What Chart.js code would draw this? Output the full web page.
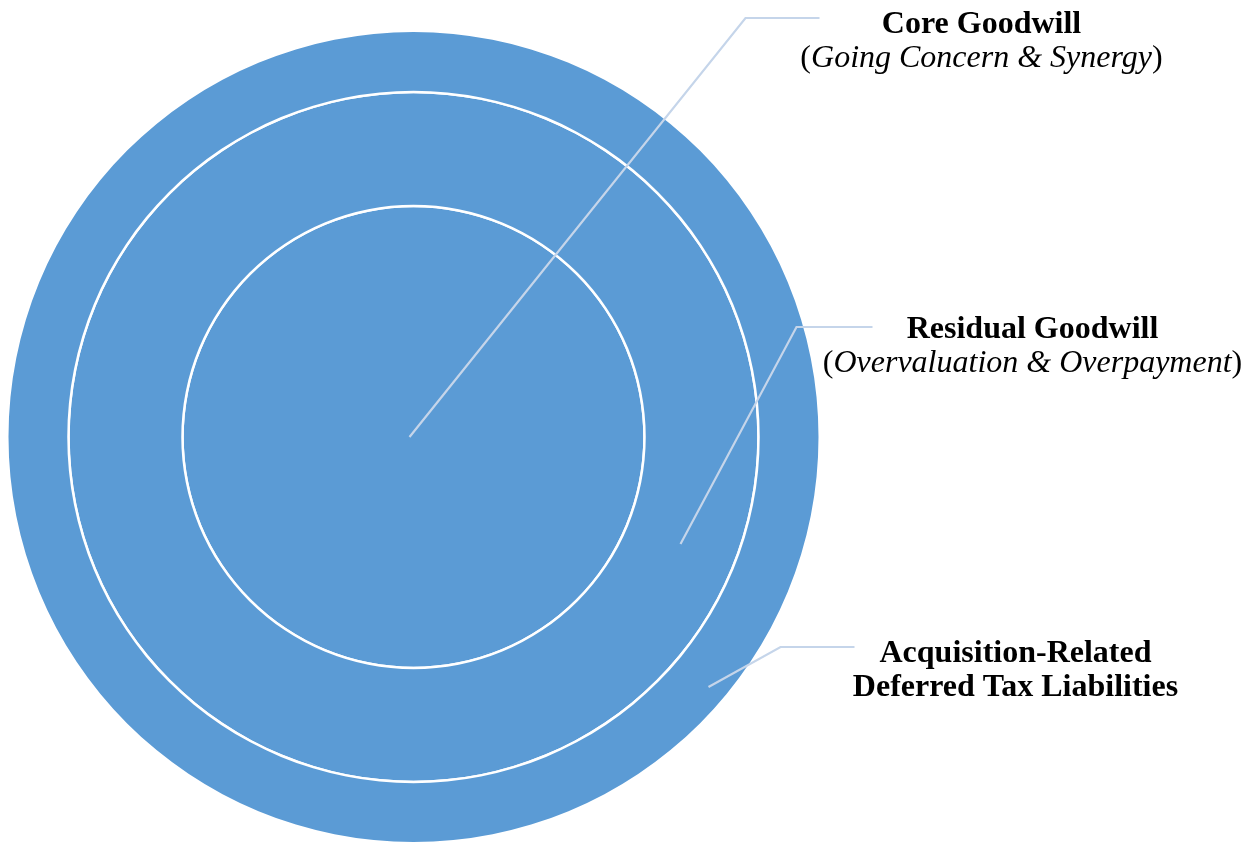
<!DOCTYPE html>
<html>
<head>
<meta charset="utf-8">
<script src="https://cdn.jsdelivr.net/npm/chart.js@4/dist/chart.umd.min.js"></script>
<style>
  html, body { margin: 0; padding: 0; background: #ffffff; }
  #wrap { position: relative; width: 1256px; height: 842px; }
</style>
</head>
<body>
<div id="wrap"><canvas id="c" width="1256" height="842"></canvas></div>
<script>
// Layers, outermost first
const layerTitles = ["Acquisition-Related\nDeferred Tax Liabilities", "Residual Goodwill", "Core Goodwill"];
const layerSubtitles = ["", "Overvaluation & Overpayment", "Going Concern & Synergy"];
const layerValues = [1, 1, 1];
// relative ring thickness of each layer (outer ring, middle ring, inner disc)
const layerThickness = [58.75, 111.5, 229.75];
const separatorThickness = 2.5;

const FILL = '#5B9BD5';
const SEP = '#FFFFFF';
const LEADER = '#C5D5EA';

const datasets = [];
layerValues.forEach((v, i) => {
  datasets.push({
    label: layerTitles[i],
    data: [v],
    backgroundColor: FILL,
    borderWidth: 0,
    hoverOffset: 0,
    weight: layerThickness[i]
  });
  if (i < layerValues.length - 1) {
    datasets.push({
      label: 'separator',
      data: [v],
      backgroundColor: SEP,
      borderWidth: 0,
      hoverOffset: 0,
      weight: separatorThickness
    });
  }
});

// leader lines relative to the circle centre: [start, corner, end]; label centre x and first baseline
const leaders = [
  { layer: 2, pts: [[-4, 0], [332, -419], [406, -419]], cx: 568, y: -404 },
  { layer: 1, pts: [[267, 107], [383, -110], [459, -110]], cx: 619, y: -99 },
  { layer: 0, pts: [[295, 250], [367, 210], [441, 210]], cx: 602, y: 225 }
];

const labelPlugin = {
  id: 'labels',
  afterDraw(chart) {
    const meta = chart.getDatasetMeta(0);
    const arc = meta.data[0];
    const cx = arc.x, cy = arc.y;
    const ctx = chart.ctx;
    ctx.save();
    ctx.strokeStyle = LEADER;
    ctx.lineWidth = 2.2;
    ctx.lineJoin = 'miter';
    leaders.forEach(L => {
      ctx.beginPath();
      L.pts.forEach((p, k) => {
        if (k === 0) ctx.moveTo(cx + p[0], cy + p[1]);
        else ctx.lineTo(cx + p[0], cy + p[1]);
      });
      ctx.stroke();
    });
    ctx.fillStyle = '#000000';
    ctx.textBaseline = 'alphabetic';
    const lineH = 34;
    const size = 32;
    leaders.forEach(L => {
      const x = cx + L.cx;
      let y = cy + L.y;
      const titleLines = layerTitles[L.layer].split('\n');
      ctx.font = 'bold ' + size + 'px "Liberation Serif", "Times New Roman", serif';
      ctx.textAlign = 'center';
      titleLines.forEach(t => { ctx.fillText(t, x, y); y += lineH; });
      const sub = layerSubtitles[L.layer];
      if (sub) {
        const fN = size + 'px "Liberation Serif", "Times New Roman", serif';
        const fI = 'italic ' + size + 'px "Liberation Serif", "Times New Roman", serif';
        ctx.font = fN; const wp = ctx.measureText('(').width; const wq = ctx.measureText(')').width;
        ctx.font = fI; const ws = ctx.measureText(sub).width;
        const total = wp + ws + wq;
        let sx = x - total / 2;
        ctx.textAlign = 'left';
        ctx.font = fN; ctx.fillText('(', sx, y); sx += wp;
        ctx.font = fI; ctx.fillText(sub, sx, y); sx += ws;
        ctx.font = fN; ctx.fillText(')', sx, y);
      }
    });
    ctx.restore();
  }
};

new Chart(document.getElementById('c'), {
  type: 'doughnut',
  data: { labels: ['layer'], datasets },
  options: {
    responsive: false,
    animation: false,
    events: [],
    cutout: 0,
    layout: { padding: { left: 8.5, right: 437.5, top: 32, bottom: 0 } },
    plugins: { legend: { display: false }, tooltip: { enabled: false } }
  },
  plugins: [labelPlugin]
});
</script>
</body>
</html>
